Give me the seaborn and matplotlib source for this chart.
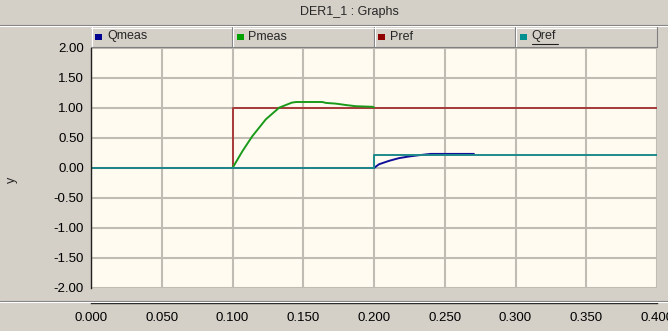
import numpy as np
import pandas as pd
import matplotlib
matplotlib.use("Agg")
import matplotlib.pyplot as plt
from matplotlib.patches import Rectangle
from matplotlib.lines import Line2D
import seaborn as sns

# data
qmeas_t = [0.0, 0.200, 0.2035, 0.2106, 0.2176, 0.2247, 0.2306, 0.240, 0.2706]
qmeas_y = [0.0, 0.0, 0.062, 0.119, 0.164, 0.192, 0.21, 0.235, 0.235]

pmeas_t = [0.0, 0.100, 0.107, 0.114, 0.1235, 0.133, 0.142, 0.145, 0.1635,
           0.166, 0.173, 0.180, 0.187, 0.199, 0.200]
pmeas_y = [0.0, 0.0, 0.28, 0.53, 0.81, 1.006, 1.09, 1.10, 1.10,
           1.085, 1.073, 1.05, 1.03, 1.02, 1.01]

pref_t = [0.0, 0.100, 0.100, 0.400]
pref_y = [0.0, 0.0, 1.0, 1.0]

qref_t = [0.0, 0.200, 0.200, 0.400]
qref_y = [0.0, 0.0, 0.215, 0.215]

series = ["Qmeas", "Pmeas", "Pref", "Qref"]
line_colors = {"Qmeas": "#10109a", "Pmeas": "#1a9a1a", "Pref": "#a83a3a", "Qref": "#1f8a8a"}
legend_colors = ["#000090", "#00a000", "#900000", "#009090"]

xticks = [0.0, 0.05, 0.10, 0.15, 0.20, 0.25, 0.30, 0.35, 0.40]
yticks = [-2.0, -1.5, -1.0, -0.5, 0.0, 0.5, 1.0, 1.5, 2.0]

frames = []
for name, t, y in [("Pref", pref_t, pref_y), ("Pmeas", pmeas_t, pmeas_y),
                   ("Qmeas", qmeas_t, qmeas_y), ("Qref", qref_t, qref_y)]:
    frames.append(pd.DataFrame({"t": t, "y": y, "series": name}))

sns.set_style("white")
plt.rcParams["font.family"] = ["Liberation Sans", "DejaVu Sans"]
plt.rcParams["font.size"] = 9

W, H = 668, 331
fig = plt.figure(figsize=(W / 100, H / 100), dpi=100)
fig.patch.set_facecolor("#d4d0c8")

left, right, top, bottom = 91, 657, 48, 288
ax = fig.add_axes([left / W, 1 - bottom / H, (right - left) / W, (bottom - top) / H])
ax.set_facecolor("#fffbf0")

for df in frames:
    name = df["series"].iloc[0]
    sns.lineplot(data=df, x="t", y="y", color=line_colors[name], estimator=None,
                 sort=False, linewidth=1.4, legend=False, ax=ax)

ax.set_xlim(0, 0.4)
ax.set_ylim(-2, 2)
ax.set_xticks(xticks)
ax.set_xticklabels([f"{v:.3f}" for v in xticks])
ax.set_yticks(yticks)
ax.set_yticklabels([f"{v:.2f}" for v in yticks])
ax.grid(True, color="#c0bcb4", linewidth=1.5)
ax.set_axisbelow(True)
ax.set_xlabel("")
ax.set_ylabel("")

for s in ["top", "right"]:
    ax.spines[s].set_visible(False)
ax.spines["left"].set_color("#202020")
ax.spines["left"].set_linewidth(1.0)
ax.spines["bottom"].set_position(("outward", 11))
ax.spines["bottom"].set_color("#202020")
ax.spines["bottom"].set_linewidth(1.0)
ax.tick_params(axis="both", direction="out", length=3, width=1, color="#202020",
               labelsize=9.5, labelcolor="#000000", pad=2)
ax.tick_params(axis="x", pad=3)

# y label
fig.text(12 / W, 1 - 180 / H, "y", rotation=90, ha="center", va="center", fontsize=9)

# title bar
fig.text(349 / W, 1 - 12 / H, "DER1_1 : Graphs", ha="center", va="center", fontsize=9)
fig.add_artist(Line2D([0, 1], [1 - 24.5 / H, 1 - 24.5 / H], color="#808080", lw=0.8))
fig.add_artist(Line2D([0, 1], [1 - 25.5 / H, 1 - 25.5 / H], color="#ffffff", lw=0.8))

# separator above x axis
fig.add_artist(Line2D([0, 1], [1 - 300.5 / H, 1 - 300.5 / H], color="#808080", lw=0.8))
fig.add_artist(Line2D([0, 1], [1 - 301.5 / H, 1 - 301.5 / H], color="#ffffff", lw=0.8))

# legend header cells
cell_w = (right - left) / 4
cell_top, cell_bot = 27, 47
for i, (name, col) in enumerate(zip(series, legend_colors)):
    x0 = left + i * cell_w
    fig.add_artist(Rectangle((x0 / W, 1 - cell_bot / H), cell_w / W, (cell_bot - cell_top) / H,
                             facecolor="#d4d0c8", edgecolor="none"))
    fig.add_artist(Line2D([x0 / W, (x0 + cell_w - 1) / W], [1 - (cell_top + 0.5) / H] * 2,
                          color="#ffffff", lw=0.8))
    fig.add_artist(Line2D([(x0 + 0.5) / W] * 2, [1 - cell_top / H, 1 - cell_bot / H],
                          color="#ffffff", lw=0.8))
    fig.add_artist(Line2D([(x0 + cell_w - 0.5) / W] * 2, [1 - cell_top / H, 1 - cell_bot / H],
                          color="#808080", lw=0.8))
    fig.add_artist(Line2D([x0 / W, (x0 + cell_w) / W], [1 - (cell_bot - 0.5) / H] * 2,
                          color="#808080", lw=0.8))
    fig.add_artist(Rectangle(((x0 + 4) / W, 1 - 40 / H), 7 / W, 6 / H,
                             facecolor=col, edgecolor="none"))
    fig.text((x0 + 16) / W, 1 - 36.5 / H, name, ha="left", va="center", fontsize=9)
    if name == "Qref":
        fig.add_artist(Line2D([(x0 + 16) / W, (x0 + 42) / W], [1 - 44 / H] * 2,
                              color="#202020", lw=0.8))

fig.savefig("out.png", dpi=100, facecolor=fig.get_facecolor())
